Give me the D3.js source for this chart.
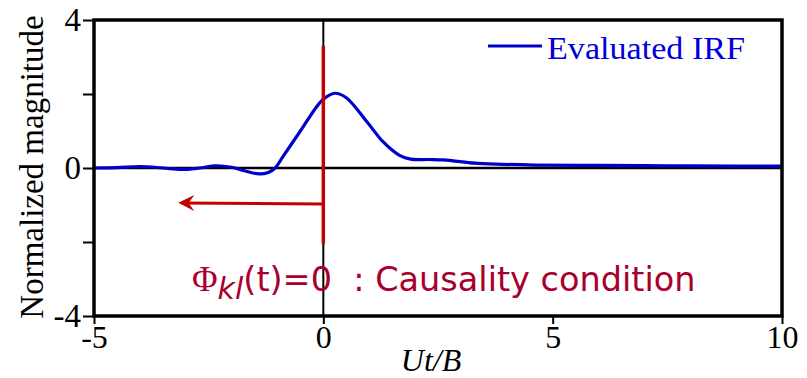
<!doctype html>
<html>
<head>
<meta charset="UTF-8">
<title>Evaluated IRF</title>
<script src="https://cdn.jsdelivr.net/npm/d3@7"></script>
<style>
  body { margin: 0; background: #fff; }
  svg text { font-family: "Liberation Serif", "Times New Roman", serif; }
</style>
</head>
<body>
<svg id="chart" width="807" height="378"></svg>
<script>
// time axis (Ut/B) and evaluated impulse response
var tValues = [-5, -4.5, -4.0, -3.5, -3.1, -2.7, -2.35, -2.0, -1.7, -1.4, -1.2, -1.05, -0.87, -0.5, -0.15, 0.0,
               0.25, 0.5, 0.95, 1.3, 1.65, 1.9, 2.3, 2.6, 2.8, 3.3, 3.9, 4.6, 6.0, 7.5, 9.0, 10.0];
var irfValues = [0.0, 0.01, 0.04, 0.0, -0.04, 0.0, 0.06, 0.02, -0.08, -0.16, -0.12, 0.0, 0.33, 1.0, 1.65, 1.86,
                 2.02, 1.9, 1.25, 0.71, 0.35, 0.24, 0.23, 0.22, 0.2, 0.13, 0.1, 0.08, 0.07, 0.06, 0.05, 0.05];

var xTicks = [-5, 0, 5, 10];
var yTicks = [-4, -2, 0, 2, 4];
var yLabels = [-4, 0, 4];

// causality marker: vertical bar at t=0 and arrow pointing to t<0
var causalBar = [3.3, -2.05];   // y range of red bar
var arrowY = -0.97;
var arrowTip = -3.18;

var svg = d3.select("#chart");
var m = {left: 94, right: 782, top: 20, bottom: 316};

var x = d3.scaleLinear().domain([-5, 10]).range([m.left, m.right]);
var y = d3.scaleLinear().domain([-4, 4]).range([m.bottom, m.top]);

// y axis ticks
var yAxis = d3.axisLeft(y).tickValues(yTicks).tickSize(11).tickPadding(2)
  .tickFormat(function(d){ return yLabels.indexOf(d) >= 0 ? String(d) : ""; });
var gy = svg.append("g").attr("transform", "translate(" + m.left + ",0)").call(yAxis);
gy.select(".domain").remove();
gy.selectAll(".tick line").attr("stroke", "#000").attr("stroke-width", 2);
gy.selectAll("text").attr("font-size", 33).attr("fill", "#000")
  .style("font-family", "Liberation Serif");

// x axis ticks
var xAxis = d3.axisBottom(x).tickValues(xTicks).tickSize(8).tickPadding(1)
  .tickFormat(function(d){ return String(d); });
var gx = svg.append("g").attr("transform", "translate(0," + m.bottom + ")").call(xAxis);
gx.select(".domain").remove();
gx.selectAll(".tick line").attr("stroke", "#000").attr("stroke-width", 2);
gx.selectAll("text").attr("font-size", 32).attr("fill", "#000")
  .style("font-family", "Liberation Serif");

// zero lines
svg.append("line")
  .attr("x1", m.left).attr("x2", m.right)
  .attr("y1", y(0)).attr("y2", y(0))
  .attr("stroke", "#000").attr("stroke-width", 2.5);
svg.append("line")
  .attr("x1", x(0)).attr("x2", x(0))
  .attr("y1", m.top).attr("y2", m.bottom)
  .attr("stroke", "#000").attr("stroke-width", 2);

// the curve
var pts = tValues.map(function(t, i){ return [t, irfValues[i]]; });
var line = d3.line()
  .x(function(d){ return x(d[0]); })
  .y(function(d){ return y(d[1]); })
  .curve(d3.curveCatmullRom.alpha(0.5));
svg.append("path").datum(pts)
  .attr("d", line)
  .attr("fill", "none")
  .attr("stroke", "#0000cc")
  .attr("stroke-width", 3.2);

// red causality bar + arrow
svg.append("defs").append("marker")
  .attr("id", "arrow")
  .attr("viewBox", "0 0 10 10")
  .attr("refX", 8).attr("refY", 5)
  .attr("markerWidth", 24).attr("markerHeight", 16)
  .attr("markerUnits", "userSpaceOnUse")
  .attr("orient", "auto")
  .append("path")
  .attr("d", "M0,0 L10,5 L0,10 L3.5,5 Z")
  .attr("fill", "#c40000");

svg.append("line")
  .attr("x1", x(0)).attr("x2", x(0))
  .attr("y1", y(causalBar[0])).attr("y2", y(causalBar[1]))
  .attr("stroke", "#c40000").attr("stroke-width", 3.5);
svg.append("line")
  .attr("x1", x(0)).attr("x2", x(arrowTip) + 4)
  .attr("y1", y(arrowY)).attr("y2", y(arrowY) - 1)
  .attr("stroke", "#c40000").attr("stroke-width", 3)
  .attr("marker-end", "url(#arrow)");

// frame
svg.append("rect")
  .attr("x", m.left).attr("y", m.top)
  .attr("width", m.right - m.left).attr("height", m.bottom - m.top)
  .attr("fill", "none").attr("stroke", "#000").attr("stroke-width", 3.5);

// legend
svg.append("line")
  .attr("x1", 488).attr("x2", 542).attr("y1", 46).attr("y2", 46)
  .attr("stroke", "#0000cc").attr("stroke-width", 3);
svg.append("text")
  .attr("x", 547).attr("y", 59)
  .attr("font-size", 31).attr("fill", "#0000dd")
  .attr("textLength", 198).attr("lengthAdjust", "spacingAndGlyphs")
  .text("Evaluated IRF");

// annotation
var ann = svg.append("text")
  .attr("x", 192).attr("y", 291)
  .attr("fill", "#a8002c")
  .attr("font-size", 33.5)
  .style("white-space", "pre");
ann.append("tspan").style("font-family", "Liberation Serif").attr("font-size", 35).text("Φ");
ann.append("tspan").style("font-family", "DejaVu Sans").style("font-style", "italic")
  .attr("dy", 8).attr("font-size", 30).text("kl");
ann.append("tspan").style("font-family", "DejaVu Sans").attr("dy", -8).text("(t)=0\u00a0\u00a0: Causality condition");

// axis titles
svg.append("text")
  .attr("x", 431).attr("y", 371)
  .attr("text-anchor", "middle")
  .attr("font-size", 32).attr("font-style", "italic")
  .text("Ut/B");
svg.append("text")
  .attr("transform", "translate(43,167) rotate(-90)")
  .attr("text-anchor", "middle")
  .attr("font-size", 33)
  .text("Normalized magnitude");
</script>
</body>
</html>
